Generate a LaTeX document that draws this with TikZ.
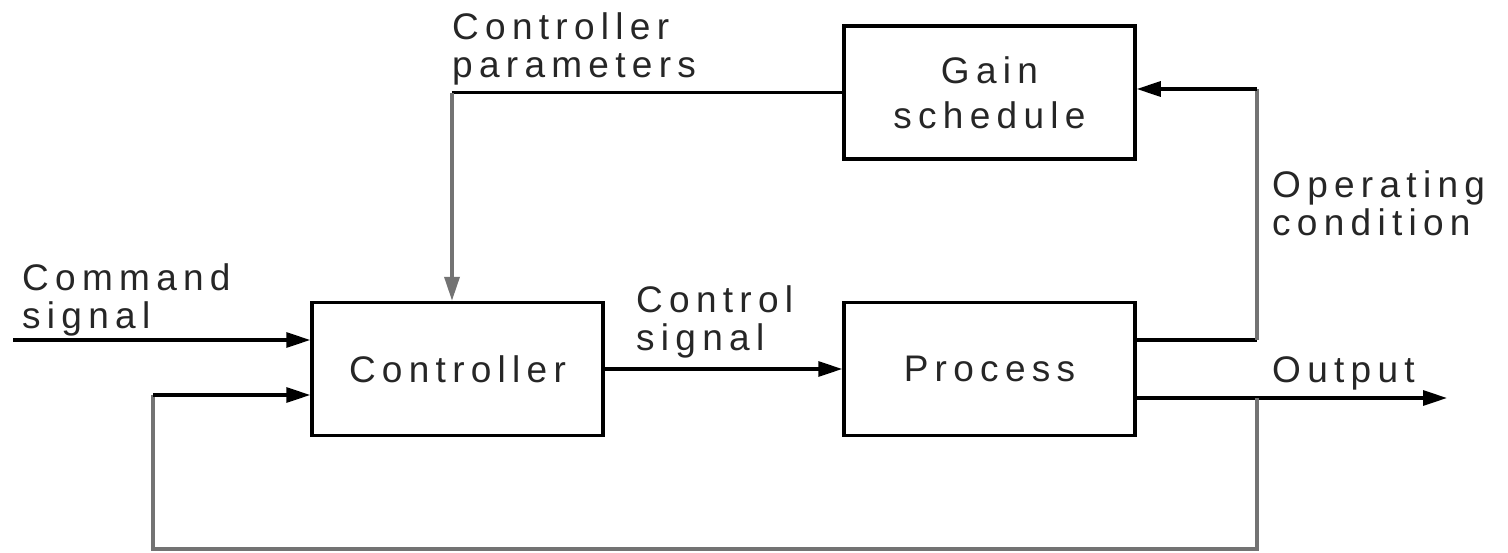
\documentclass[tikz,border=0pt]{standalone}
\usepackage{fontspec}
\setmainfont{Liberation Sans}[LetterSpace=17]
\usetikzlibrary{arrows.meta}
\begin{document}
\begin{tikzpicture}[x=1pt,y=-1pt,
  blk/.style={draw=black,line width=3.5pt,minimum width=291pt,minimum height=133pt,inner sep=0pt,
    font=\fontsize{37}{45}\selectfont,text=black!85,align=center},
  wire/.style={draw=black,line width=3.2pt},
  gwire/.style={draw=black!55,line width=3.5pt},
  arr/.style={-{Triangle[length=24pt,width=15pt]}},
  lbl/.style={inner sep=0pt,anchor=base west,align=left,text=black!85,font=\fontsize{37}{38}\selectfont}]
\useasboundingbox (0,0) rectangle (1508,552);
\fill[white] (0,0) rectangle (1508,552);
% blocks
\node[blk] (ctrl) at (457.5,369) {Controller};
\node[blk] (proc) at (989.5,369) {Process};
\node[blk] (gain) at (989.5,92.5) {Gain\\schedule};
% coordinates
\coordinate (cmdin) at (13,340);
\coordinate (outend) at (1447,398);
\coordinate (fbj) at (1257,398);
\coordinate (fbbr) at (1257,549);
\coordinate (fbbl) at (153,549);
\coordinate (fbtl) at (153,395);
\coordinate (opj) at (1257,340);
\coordinate (optop) at (1257,89);
\coordinate (parl) at (452,92.5);
% connectors
\draw[wire,arr] (cmdin) -- (cmdin -| ctrl.west);
\draw[wire,arr] (ctrl.east) -- (proc.west);
\draw[wire,arr] (proc.east |- outend) -- (outend);
\draw[wire] (proc.east |- opj) -- (opj);
\draw[gwire] (opj) -- (optop);
\draw[wire,arr] (optop) -- (optop -| gain.east);
\draw[wire] (gain.west) -- (parl);
\draw[gwire,arr] (parl) -- (parl |- ctrl.north);
\draw[gwire] (fbj) -- (fbbr) -- (fbbl) -- (fbtl);
\draw[wire,arr] (fbtl) -- (fbtl -| ctrl.west);
% labels (base anchor = baseline of last line)
\node[lbl] (lcmd) at (22,328) {Command\\signal};
\node[lbl] (lpar) at (452,77) {Controller\\parameters};
\node[lbl] (lcs) at (636,350) {Control\\signal};
\node[lbl] (lop) at (1272,235) {Operating\\condition};
\node[lbl] (lout) at (1272,382) {Output};
\end{tikzpicture}
\end{document}
